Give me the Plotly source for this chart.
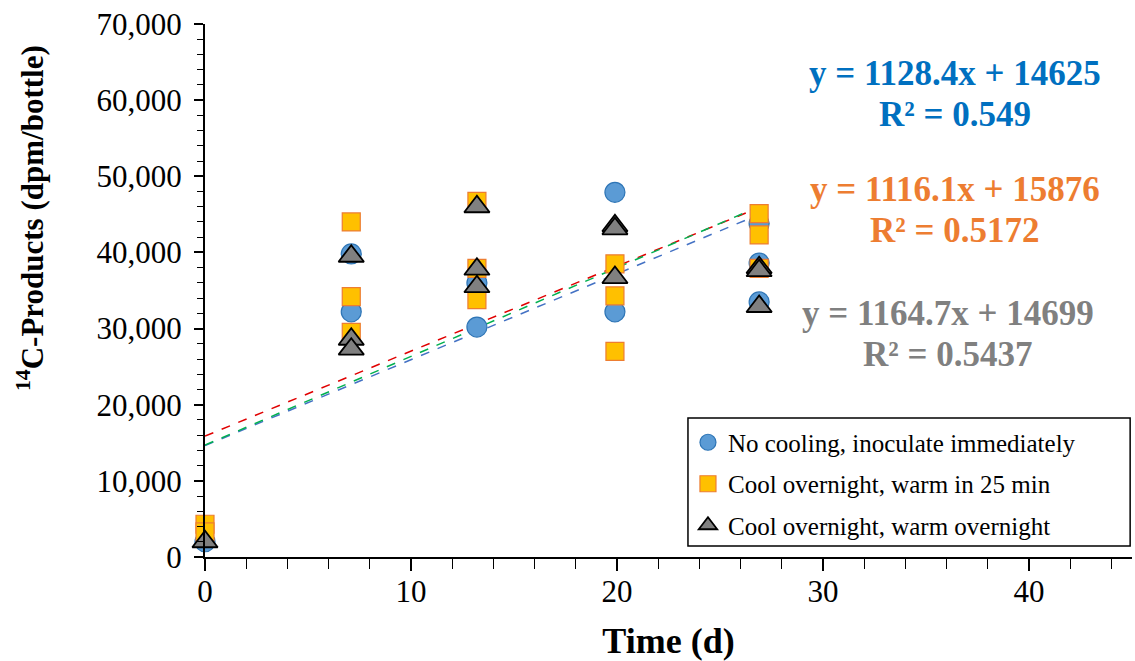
import plotly.graph_objects as go

# ---- data ----
circle_x = [0, 7.1, 7.1, 13.2, 13.2, 19.9, 19.9, 26.9, 26.9, 26.9]
circle_y = [2000, 39800, 32200, 36000, 30200, 47900, 32200, 43800, 38600, 33500]

square_x = [0, 0, 7.1, 7.1, 7.1, 13.2, 13.2, 13.2, 19.9, 19.9, 19.9, 26.9, 26.9, 26.9]
square_y = [4300, 3300, 44000, 34200, 29500, 46700, 37900, 33800, 38500, 34300, 27000, 45100, 42300, 37900]

tri_x = [0, 7.1, 7.1, 7.1, 13.2, 13.2, 13.2, 19.9, 19.9, 19.9, 26.9, 26.9, 26.9]
tri_y = [2000, 39500, 28600, 27300, 46000, 37800, 35500, 43500, 43100, 36700, 38000, 37600, 32900]

series_names = ["No cooling, inoculate immediately",
                "Cool overnight, warm in 25 min",
                "Cool overnight, warm overnight"]
slopes = [1128.4, 1116.1, 1164.7]
intercepts = [14625, 15876, 14699]
r2_labels = ["0.549", "0.5172", "0.5437"]
trend_x = [0, 26.9]

FONT = "Liberation Serif"

fig = go.Figure()

# trendlines
trend_colors = ["#4472C4", "#E00000", "#00B050"]
for s, b, c in zip(slopes, intercepts, trend_colors):
    fig.add_trace(go.Scatter(
        x=trend_x, y=[s * xx + b for xx in trend_x], mode="lines",
        line=dict(color=c, width=1.5, dash="dash"), showlegend=False,
        hoverinfo="skip"))

fig.add_trace(go.Scatter(
    x=circle_x, y=circle_y, mode="markers", name=series_names[0],
    legendgroup="a",
    marker=dict(symbol="circle", size=20, color="#5B9BD5",
                line=dict(color="#2E75B6", width=1.2)),
    cliponaxis=False))
fig.add_trace(go.Scatter(
    x=square_x, y=square_y, mode="markers", name=series_names[1],
    legendgroup="b",
    marker=dict(symbol="square", size=18, color="#FFC000",
                line=dict(color="#ED7D31", width=1.2)),
    cliponaxis=False))
fig.add_trace(go.Scatter(
    x=tri_x, y=tri_y, mode="markers", name=series_names[2],
    legendgroup="c",
    marker=dict(symbol="triangle-up", size=22, color="#808080",
                line=dict(color="#000000", width=1.8)),
    cliponaxis=False))

# equation annotations (two lines each, boxes touching at the split point)
ann_colors = ["#0070C0", "#ED7D31", "#808080"]
ann_pos = [(0.809, 0.868), (0.809, 0.651), (0.801, 0.418)]
for s, b, r2, c, (ax, ay) in zip(slopes, intercepts, r2_labels, ann_colors, ann_pos):
    fig.add_annotation(
        x=ax, y=ay, xref="paper", yref="paper", showarrow=False,
        xanchor="center", yanchor="bottom", borderpad=0,
        text=f"<b>y = {s}x + {b}</b>",
        font=dict(family=FONT, size=35, color=c))
    fig.add_annotation(
        x=ax, y=ay, xref="paper", yref="paper", showarrow=False,
        xanchor="center", yanchor="top", borderpad=0,
        text=f"<b>R² = {r2}</b>",
        font=dict(family=FONT, size=35, color=c))

# y-axis title as annotation (offset upward like the reference)
fig.add_annotation(
    x=-0.1888, y=0.636, xref="paper", yref="paper", showarrow=False,
    xanchor="center", yanchor="middle", textangle=-90,
    text="<b><sup>14</sup>C-Products (dpm/bottle)</b>",
    font=dict(family=FONT, size=31, color="black"))

# legend frame
fig.add_shape(type="rect", xref="paper", yref="paper",
              x0=0.521, x1=0.998, y0=0.0206, y1=0.2608,
              line=dict(color="black", width=1.5), fillcolor="white", layer="below")

fig.update_layout(
    width=1135, height=661,
    margin=dict(l=205, r=3, t=24, b=104),
    paper_bgcolor="white", plot_bgcolor="white",
    font=dict(family=FONT, color="black"),
    showlegend=True,
    legend=dict(x=0.521, y=0.258, xanchor="left", yanchor="top",
                borderwidth=0, bgcolor="rgba(0,0,0,0)",
                font=dict(family=FONT, size=25, color="black"),
                tracegroupgap=6, itemsizing="trace"),
    xaxis=dict(range=[0, 45], tickvals=[0, 10, 20, 30, 40],
               showgrid=False, zeroline=False,
               showline=True, linecolor="black", linewidth=2,
               ticks="outside", ticklen=12, tickwidth=1.5, tickcolor="black",
               minor=dict(dtick=2, ticks="outside", ticklen=10, tickwidth=1.2, tickcolor="black"),
               tickfont=dict(family=FONT, size=31, color="black"),
               ticklabelstandoff=-6,
               title=dict(text="<b>Time (d)</b>", font=dict(family=FONT, size=36, color="black"),
                          standoff=22)),
    yaxis=dict(range=[0, 70000], dtick=10000, tickformat=",",
               showgrid=False, zeroline=False,
               showline=True, linecolor="black", linewidth=2,
               ticks="outside", ticklen=9, tickwidth=1.5, tickcolor="black",
               minor=dict(dtick=2000, ticks="outside", ticklen=6, tickwidth=1.2, tickcolor="black"),
               tickfont=dict(family=FONT, size=31, color="black"),
               ticklabelstandoff=6),
)

fig.write_html("out.html")
